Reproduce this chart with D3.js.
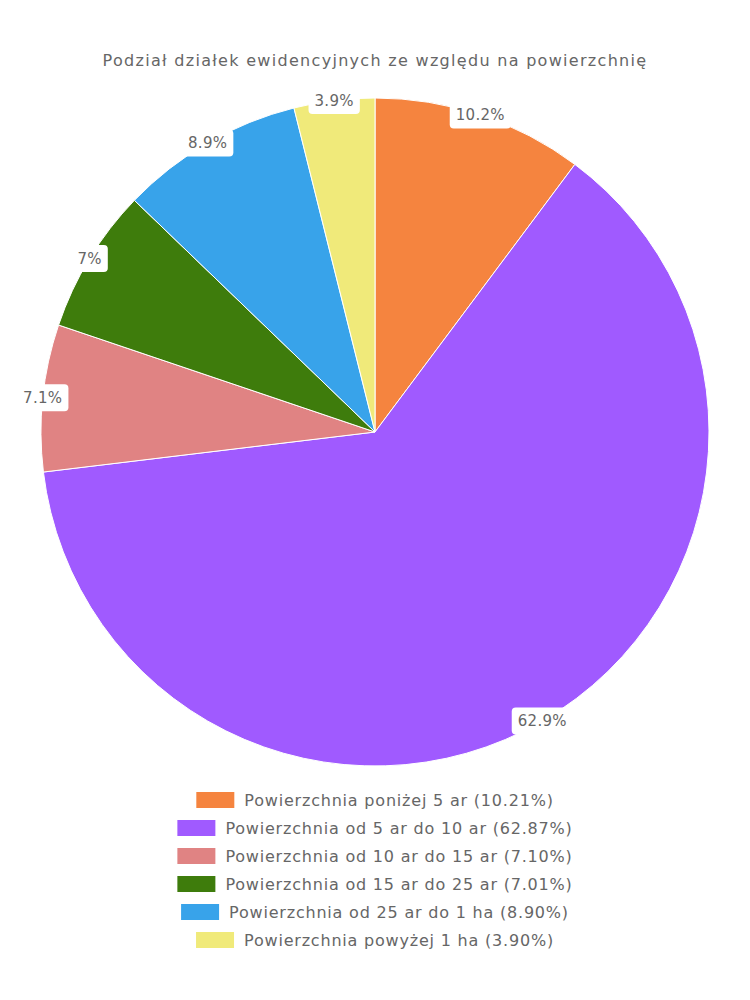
<!DOCTYPE html>
<html>
<head>
<meta charset="utf-8">
<script src="https://cdn.jsdelivr.net/npm/d3@7/dist/d3.min.js"></script>
<style>
  html, body { margin: 0; padding: 0; background: #fff; }
  svg { display: block; }
  text { font-family: "DejaVu Sans", sans-serif; fill: #666; }
</style>
</head>
<body>
<svg id="chart" width="750" height="1000"></svg>
<script>
const title = "Podział działek ewidencyjnych ze względu na powierzchnię";
const categories = [
  "Powierzchnia poniżej 5 ar",
  "Powierzchnia od 5 ar do 10 ar",
  "Powierzchnia od 10 ar do 15 ar",
  "Powierzchnia od 15 ar do 25 ar",
  "Powierzchnia od 25 ar do 1 ha",
  "Powierzchnia powyżej 1 ha"
];
const values = [10.21, 62.87, 7.10, 7.01, 8.90, 3.90];
const colors = ["#f5843f", "#a05aff", "#e08383", "#3e7c0c", "#38a3ea", "#f0ea7a"];

const svg = d3.select("#chart");
const W = 750;
const cx = 375, cy = 432, R = 334;

svg.append("text")
  .attr("x", W / 2).attr("y", 66)
  .attr("text-anchor", "middle")
  .style("font-size", "16px")
  .style("letter-spacing", "1.3px")
  .text(title);

const pie = d3.pie().sort(null).value(d => d)(values);
const arc = d3.arc().innerRadius(0).outerRadius(R);
const g = svg.append("g").attr("transform", `translate(${cx},${cy})`);

g.selectAll("path.slice").data(pie).enter().append("path")
  .attr("class", "slice")
  .attr("d", arc)
  .attr("fill", (d, i) => colors[i])
  .attr("stroke", "#fff")
  .attr("stroke-width", 1);

const fmt = v => (+v.toFixed(1)) + "%";
const labelArc = d3.arc().innerRadius(R).outerRadius(R);
pie.forEach((d, i) => {
  const [x, y] = labelArc.centroid(d);
  const lg = g.append("g").attr("transform", `translate(${x},${y})`);
  const t = lg.append("text")
    .attr("text-anchor", "middle")
    .attr("dy", "0.35em")
    .style("font-size", "15px")
    .style("letter-spacing", "0.3px")
    .text(fmt(values[i]));
  const bb = t.node().getBBox();
  lg.insert("rect", "text")
    .attr("x", bb.x - 6).attr("y", -13.5)
    .attr("width", bb.width + 12).attr("height", 27)
    .attr("rx", 4).attr("fill", "#fff");
});

const legY0 = 800, legStep = 28;
categories.forEach((c, i) => {
  const row = svg.append("g");
  const t = row.append("text")
    .attr("y", legY0 + i * legStep)
    .attr("dy", "0.35em")
    .style("font-size", "16px")
    .style("letter-spacing", "0.8px")
    .text(`${c} (${values[i].toFixed(2)}%)`);
  const tw = t.node().getComputedTextLength();
  const boxW = 38, gap = 10;
  const total = boxW + gap + tw;
  const x0 = W / 2 - total / 2;
  row.insert("rect", "text")
    .attr("x", x0).attr("y", legY0 + i * legStep - 8)
    .attr("width", boxW).attr("height", 16)
    .attr("fill", colors[i]);
  t.attr("x", x0 + boxW + gap);
});
</script>
</body>
</html>
